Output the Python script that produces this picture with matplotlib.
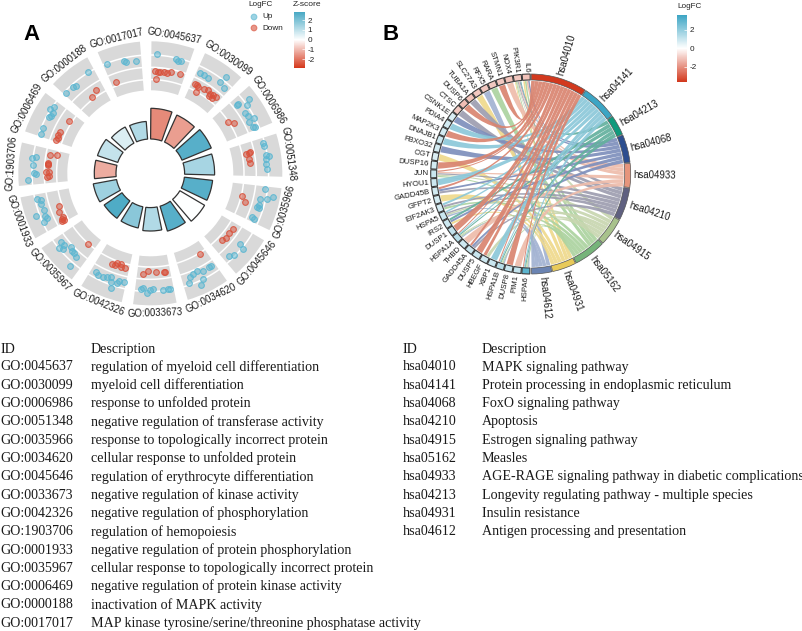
import numpy as np
import matplotlib
matplotlib.use("Agg")
import matplotlib.pyplot as plt
from matplotlib.colors import LinearSegmentedColormap, Normalize, to_rgba
from matplotlib.cm import ScalarMappable
from matplotlib.patches import Wedge, PathPatch
from matplotlib.path import Path

plt.rcParams["font.family"] = ["Liberation Sans", "DejaVu Sans"]
plt.rcParams["axes.unicode_minus"] = False

# panel A data
go_ids = ["GO:0045637", "GO:0030099", "GO:0006986", "GO:0051348", "GO:0035966",
          "GO:0034620", "GO:0045646", "GO:0033673", "GO:0042326", "GO:1903706",
          "GO:0001933", "GO:0035967", "GO:0006469", "GO:0000188", "GO:0017017"]
go_desc = ["regulation of myeloid cell differentiation", "myeloid cell differentiation",
           "response to unfolded protein", "negative regulation of transferase activity",
           "response to topologically incorrect protein", "cellular response to unfolded protein",
           "regulation of erythrocyte differentiation", "negative regulation of kinase activity",
           "negative regulation of phosphorylation", "regulation of hemopoiesis",
           "negative regulation of protein phosphorylation",
           "cellular response to topologically incorrect protein",
           "negative regulation of protein kinase activity", "inactivation of MAPK activity",
           "MAP kinase tyrosine/serine/threonine phosphatase activity"]
# order on the circle differs from the table for the last terms
circle_ids = ["GO:0045637", "GO:0030099", "GO:0006986", "GO:0051348", "GO:0035966",
              "GO:0045646", "GO:0034620", "GO:0033673", "GO:0042326", "GO:0035967",
              "GO:0001933", "GO:1903706", "GO:0006469", "GO:0000188", "GO:0017017"]
bar_height = [30.7, 29.7, 31.7, 30, 28.4, 28.7, 26, 23.4, 21.7, 21.7, 23.7, 21.7, 21.4, 18.4, 17.7]
bar_zscore = [-1.7, -1.4, 2.6, 1.35, 2.6, 0, 2.6, 1.2, 1.8, 2.7, 1.5, -1.2, 0.9, 0.55, 1.2]

# (position inside the sector, logFC)
up_points = [
    [(.15, 1.1), (.63, .9), (.71, .81), (.77, .84)],
    [(.1, .46), (.21, .51), (.34, .46), (.68, .68), (.72, 1.3), (.87, .57)],
    [(.17, .41), (.17, .45), (.23, 1.4), (.34, 1), (.46, .5), (.59, .62), (.71, .9), (.75, .43), (.9, .57), (.92, .72)],
    [(.14, .88), (.2, .88), (.45, .9), (.48, 1.15), (.56, .85), (.69, .78), (.82, .9)],
    [(.07, .76), (.35, .54), (.31, 1.07), (.23, 1.5), (.51, .6), (.59, .46), (.6, .67), (.89, .42), (.9, .6)],
    [(.41, .72), (.46, 1.07), (.73, .93), (.83, .68)],
    [(.13, .38), (.17, .38), (.53, .16), (.38, .42), (.67, .25), (.77, .42), (.85, .82), (.47, .97), (.59, 1.35)],
    [(.09, .92), (.16, .92), (.29, .92), (.53, .81), (.62, .87), (.68, 1.14), (.79, .75), (.85, .83)],
    [(.86, .51), (.77, .67), (.63, .62), (.53, .53), (.42, .41), (.39, .78), (.24, .67), (.2, .47), (.05, .51), (.34, 1.22)],
    [(.85, .53), (.72, .5), (.74, .97), (.65, .78), (.56, .22), (.47, .33), (.38, .37), (.26, .5), (.23, 1.35)],
    [(.89, .86), (.83, .56), (.73, .6), (.55, .56), (.39, .6), (.32, .56), (.25, .86), (.48, 1.3)],
    [(.67, 1.05), (.72, .8), (.49, .97), (.31, .84), (.27, .7), (.13, 1.3)],
    [(.85, .85), (.74, 1.05), (.7, .73), (.56, .82), (.62, .7), (.23, .82), (.06, .82)],
    [(.84, 1), (.38, .73), (.3, .84), (.05, .87)],
    [(.86, .62), (.6, .67), (.54, .72), (.1, .9)],
]
down_points = [
    [(.1, -.32), (.19, -.33), (.16, -.93), (.26, -.32), (.38, -.3), (.48, -.32), (.58, -.2), (.86, -.2)],
    [(.12, -.51), (.24, -.56), (.18, -.5), (.25, -1.08), (.43, -.51), (.55, -.4), (.66, -.55), (.75, -.45), (.85, -.43), (.67, -.69), (.78, -.67)],
    [(.44, -1.03), (.54, -.69)],
    [(.27, -.36), (.33, -.7), (.5, -.5), (.6, -.5), (.3, -.45)],
    [(.39, -.94), (.54, -.57)],
    [(.2, -.52), (.35, -.6), (.54, -.5), (.66, -.65)],
    [(.2, -.9)],
    [(.17, -.49), (.2, -.53), (.42, -.55), (.69, -.7), (.83, -.41)],
    [(.54, -.62), (.45, -.62), (.4, -.84), (.29, -.86), (.25, -.65), (.14, -.62)],
    [(.26, -.92)],
    [(.5, -.73), (.35, -.55), (.17, -.67), (.07, -.65), (.07, -.43), (.12, -.55)],
    [(.83, -.33), (.87, -.85), (.6, -.23), (.53, -.25), (.33, -.13), (.33, -.37), (.19, -.19), (.21, -.41), (.56, -.3)],
    [(.75, -.73), (.33, -.53), (.21, -.46), (.05, -.5), (.13, -.6)],
    [(.75, -.52), (.52, -.79)],
    [(.16, -.7)],
]

# panel B data
kegg_ids = ["hsa04010", "hsa04141", "hsa04068", "hsa04210", "hsa04915",
            "hsa05162", "hsa04933", "hsa04213", "hsa04931", "hsa04612"]
kegg_desc = ["MAPK signaling pathway", "Protein processing in endoplasmic reticulum",
             "FoxO signaling pathway", "Apoptosis", "Estrogen signaling pathway", "Measles",
             "AGE-RAGE signaling pathway in diabetic complications",
             "Longevity regulating pathway - multiple species", "Insulin resistance",
             "Antigen processing and presentation"]
genes = ["IL6", "PIK3R1", "NOX4", "STMN1", "RARA", "RFX5", "SLC27A3", "TUBA1A", "DUSP6", "CTSC",
         "CSNK1E", "PDIA4", "MAP2K3", "DNAJB1", "FBXO32", "OGT", "DUSP16", "JUN", "HYOU1", "GADD45B",
         "GFPT2", "EIF2AK3", "HSPA5", "IRS2", "DUSP1", "HSPA1A", "THBD", "GADD45A", "DUSP5", "HBEGF",
         "XBP1", "HSPA1B", "DUSP8", "PIM1", "HSPA6"]
gene_logfc = [-1.1, -1.0, -1.1, -1.0, -1.0, -1.0, -1.0, -1.1, -1.2, -1.0,
              0.7, 0.8, 0.8, 0.9, 0.8, 0.7, 0.8, 1.0, 0.9, 0.8,
              0.8, 0.8, 1.0, 0.9, 1.1, 1.3, 0.9, 1.0, 1.0, 0.9,
              1.0, 1.3, 1.0, 1.1, 3.0]
chord_terms = ["hsa04010", "hsa04141", "hsa04213", "hsa04068", "hsa04933",
               "hsa04210", "hsa04915", "hsa05162", "hsa04931", "hsa04612"]
term_ring = ["#d2391e", "#3ca5c4", "#0f9a7c", "#2d4e8f", "#e6957c",
             "#5f6080", "#a8c28c", "#76b47a", "#e8ca5a", "#6a83b2"]
term_ribbon = ["#d98470", "#8cc8d9", "#63b09d", "#7e8fbc", "#eebcab",
               "#9e9eb0", "#c8d6b0", "#acd3a0", "#efd98c", "#a2b2d2"]
term_genes = [
    ["STMN1", "DUSP6", "MAP2K3", "DUSP16", "JUN", "GADD45B", "DUSP1", "HSPA1A", "GADD45A", "DUSP5", "HBEGF", "HSPA1B", "DUSP8", "HSPA6"],
    ["PDIA4", "DNAJB1", "HYOU1", "EIF2AK3", "HSPA5", "HSPA1A", "XBP1", "HSPA1B", "HSPA6"],
    ["PIK3R1", "IRS2", "HSPA1A", "HSPA1B", "HSPA6"],
    ["IL6", "PIK3R1", "CSNK1E", "FBXO32", "GADD45B", "IRS2", "GADD45A"],
    ["IL6", "PIK3R1", "NOX4", "JUN", "THBD", "PIM1"],
    ["PIK3R1", "TUBA1A", "CTSC", "JUN", "GADD45B", "EIF2AK3", "HSPA5", "GADD45A"],
    ["PIK3R1", "JUN", "HSPA5", "HBEGF", "HSPA1A", "HSPA1B", "HSPA6"],
    ["IL6", "PIK3R1", "RARA", "JUN", "EIF2AK3", "HSPA1A", "HSPA1B", "HSPA6"],
    ["IL6", "PIK3R1", "SLC27A3", "OGT", "GFPT2", "IRS2"],
    ["RFX5", "HSPA5", "HSPA1A", "HSPA1B", "HSPA6"],
]

W, H = 803, 631
fig = plt.figure(figsize=(W / 100, H / 100), dpi=100)


def px_axes(x0, y0, x1, y1, **kw):
    return fig.add_axes([x0 / W, 1 - y1 / H, (x1 - x0) / W, (y1 - y0) / H], **kw)


def px_text(x, y, s, **kw):
    kw.setdefault("va", "center")
    fig.text(x / W, 1 - y / H, s, **kw)


cmap_a = LinearSegmentedColormap.from_list("z", ["#d5391c", "#ffffff", "#45a7c3"])
cmap_b = LinearSegmentedColormap.from_list("lfc", ["#d2391e", "#ffffff", "#3ca5c4"])

# ---- panel A
cx, cy, rmax = 150.3, 173.3, 150
ax = px_axes(cx - rmax, cy - rmax, cx + rmax, cy + rmax, projection="polar")
ax.set_theta_zero_location("N")
ax.set_theta_direction(-1)
ax.set_axis_off()

step, span = 24, 19
r0, scale = 106, 12.3
zn = Normalize(-2.87, 2.87)
up_col, down_col = "#5ab6d1", "#d8503a"
for k, gid in enumerate(circle_ids):
    a0 = k * step + 0.5
    ax.bar(np.deg2rad(a0 + span / 2), 49, np.deg2rad(span), bottom=83, color="#d9d9d9", lw=0)
    arc = np.deg2rad(np.linspace(a0, a0 + span, 30))
    for lev in [-1, 0, 1]:
        ax.plot(arc, np.full(30, r0 + lev * scale), color="white", lw=1.1)
    ax.bar(np.deg2rad(a0 + span / 2), bar_height[k], np.deg2rad(span), bottom=34.3,
           color=cmap_a(zn(bar_zscore[k])), edgecolor="#333333", lw=0.9)
    for pts, col in [(up_points[k], up_col), (down_points[k], down_col)]:
        th = [np.deg2rad(a0 + p[0] * span) for p in pts]
        rr = [r0 + p[1] * scale for p in pts]
        ax.scatter(th, rr, s=17, facecolor=to_rgba(col, 0.5),
                   edgecolor=to_rgba(col, 0.85), lw=0.8, zorder=3)
    mid = k * step + 10
    rot = 180 - mid if 90 < mid < 270 else -mid
    ax.text(np.deg2rad(mid), 139.5, gid, fontsize=6.9, rotation=rot, rotation_mode="anchor",
            ha="center", va="center", color="#1a1a1a", clip_on=False)
ax.set_rlim(0, rmax)

px_text(248, 4, "LogFC", fontsize=5.9, color="#222222")
px_text(293, 4, "Z-score", fontsize=6, color="#222222")
leg = px_axes(248, 11, 262, 34)
leg.set_xlim(0, 14)
leg.set_ylim(23, 0)
leg.set_axis_off()
leg.scatter([6, 6], [6, 17], s=17, c=[up_col, down_col], alpha=0.6, lw=0.8)
px_text(262, 17, "Up", fontsize=5.9, color="#222222")
px_text(262, 28.5, "Down", fontsize=5.9, color="#222222")

cax = px_axes(294, 11.7, 305, 67.7)
cb = fig.colorbar(ScalarMappable(zn, cmap_a), cax=cax, ticks=[-2, -1, 0, 1, 2])
cb.outline.set_visible(False)
cb.ax.tick_params(length=2.5, width=0.5, color="white", direction="in", labelsize=5.9, pad=2, labelcolor="#222222")

# ---- panel B
bx, by, bmax = 530.7, 174, 150
ax2 = px_axes(bx - bmax, by - bmax, bx + bmax, by + bmax)
ax2.set_xlim(-bmax, bmax)
ax2.set_ylim(-bmax, bmax)
ax2.set_axis_off()


def pol(theta, r):
    t = np.deg2rad(theta)
    return r * np.sin(t), r * np.cos(t)


def pull(p, q, k=0.1):
    # control point of a ribbon edge, a little off the circle centre
    return k * (p[0] + q[0]), k * (p[1] + q[1])


ring_out, ring_in, rib_r = 100, 94, 93
gap = 0.5
unit = (179.2 - 9 * gap) / sum(len(g) for g in term_genes)
gene_w = (179.2 - 34 * gap) / len(genes)
gene_links = {g: [i for i, tg in enumerate(term_genes) if g in tg] for g in genes}

# gene arcs run from the top of the circle down the left side
gene_start = {g: 359.7 - i * (gene_w + gap) for i, g in enumerate(genes)}
ribbons = []
th = 0.3
for i, term in enumerate(chord_terms):
    w = unit * len(term_genes[i])
    ax2.add_patch(Wedge((0, 0), ring_out, 90 - th - w, 90 - th, width=ring_out - ring_in,
                        facecolor=term_ring[i], edgecolor="#555555", lw=0.5, zorder=4))
    mid = th + w / 2
    x, y = pol(mid, 103)
    ax2.text(x, y, term, fontsize=6.9, rotation=90 - mid, rotation_mode="anchor",
             ha="left", va="center", color="#1a1a1a")
    for j, g in enumerate(term_genes[i]):
        # share of this ribbon on the gene arc
        links = gene_links[g]
        n = links.index(i)
        inner = gene_w * 0.85
        gw = inner / len(links)
        g_hi = gene_start[g] - gene_w * 0.075 - n * gw
        ribbons.append((genes.index(g), i, g_hi, g_hi - gw, th + j * unit, th + (j + 1) * unit))
    th += w + gap

for gi, ti, g_hi, g_lo, t_lo, t_hi in sorted(ribbons):
    g_arc = [pol(a, rib_r) for a in np.linspace(g_hi, g_lo, 6)]
    t_arc = [pol(a, rib_r) for a in np.linspace(t_hi, t_lo, 6)]
    verts = g_arc + [pull(g_arc[-1], t_arc[0])] + t_arc + [pull(t_arc[-1], g_arc[0]), g_arc[0]]
    codes = [Path.MOVETO] + [Path.LINETO] * 5 + [Path.CURVE3, Path.CURVE3] + [Path.LINETO] * 5 + [Path.CURVE3, Path.CURVE3]
    ax2.add_patch(PathPatch(Path(verts, codes), facecolor=term_ribbon[ti], edgecolor="none",
                            alpha=0.92, zorder=2))

lfc_norm = Normalize(-3.6, 3.6)
for i, g in enumerate(genes):
    start = gene_start[g]
    ax2.add_patch(Wedge((0, 0), ring_out, 90 - start, 90 - start + gene_w, width=ring_out - ring_in,
                        facecolor=cmap_b(lfc_norm(gene_logfc[i])), edgecolor="#3a3a3a", lw=0.8, zorder=4))
    mid = start - gene_w / 2
    x, y = pol(mid, 102)
    ax2.text(x, y, g, fontsize=5.6, rotation=270 - mid, rotation_mode="anchor",
             ha="right", va="center", color="#1a1a1a")

px_text(677, 7, "LogFC", fontsize=5.9, color="#222222")
cax2 = px_axes(677, 15, 687, 81.7)
cb2 = fig.colorbar(ScalarMappable(lfc_norm, cmap_b), cax=cax2, ticks=[-2, 0, 2])
cb2.outline.set_visible(False)
cb2.ax.tick_params(length=2.5, width=0.5, color="white", direction="in", labelsize=5.9, pad=2, labelcolor="#222222")

px_text(23, 34, "A", fontsize=16, fontweight="bold", color="black")
px_text(383, 34, "B", fontsize=16, fontweight="bold", color="black")

# ---- tables under the circles
serif = ["Liberation Serif", "DejaVu Serif"]
fs = 10.05
row_y0, row_dy = 367, 18.3
px_text(0.5, 349, "ID", fontsize=fs, family=serif, color="#1a1a1a")
px_text(90.7, 349, "Description", fontsize=fs, family=serif, color="#1a1a1a")
for i, (gid, desc) in enumerate(zip(go_ids, go_desc)):
    px_text(0.5, row_y0 + i * row_dy, gid, fontsize=fs, family=serif, color="#1a1a1a")
    px_text(90.7, row_y0 + i * row_dy, desc, fontsize=fs, family=serif, color="#1a1a1a")

px_text(403, 349, "ID", fontsize=fs, family=serif, color="#1a1a1a")
px_text(481.7, 349, "Description", fontsize=fs, family=serif, color="#1a1a1a")
for i, (kid, desc) in enumerate(zip(kegg_ids, kegg_desc)):
    px_text(403, row_y0 + i * row_dy, kid, fontsize=fs, family=serif, color="#1a1a1a")
    px_text(481.7, row_y0 + i * row_dy, desc, fontsize=fs, family=serif, color="#1a1a1a")

fig.savefig("out.png", dpi=100)
